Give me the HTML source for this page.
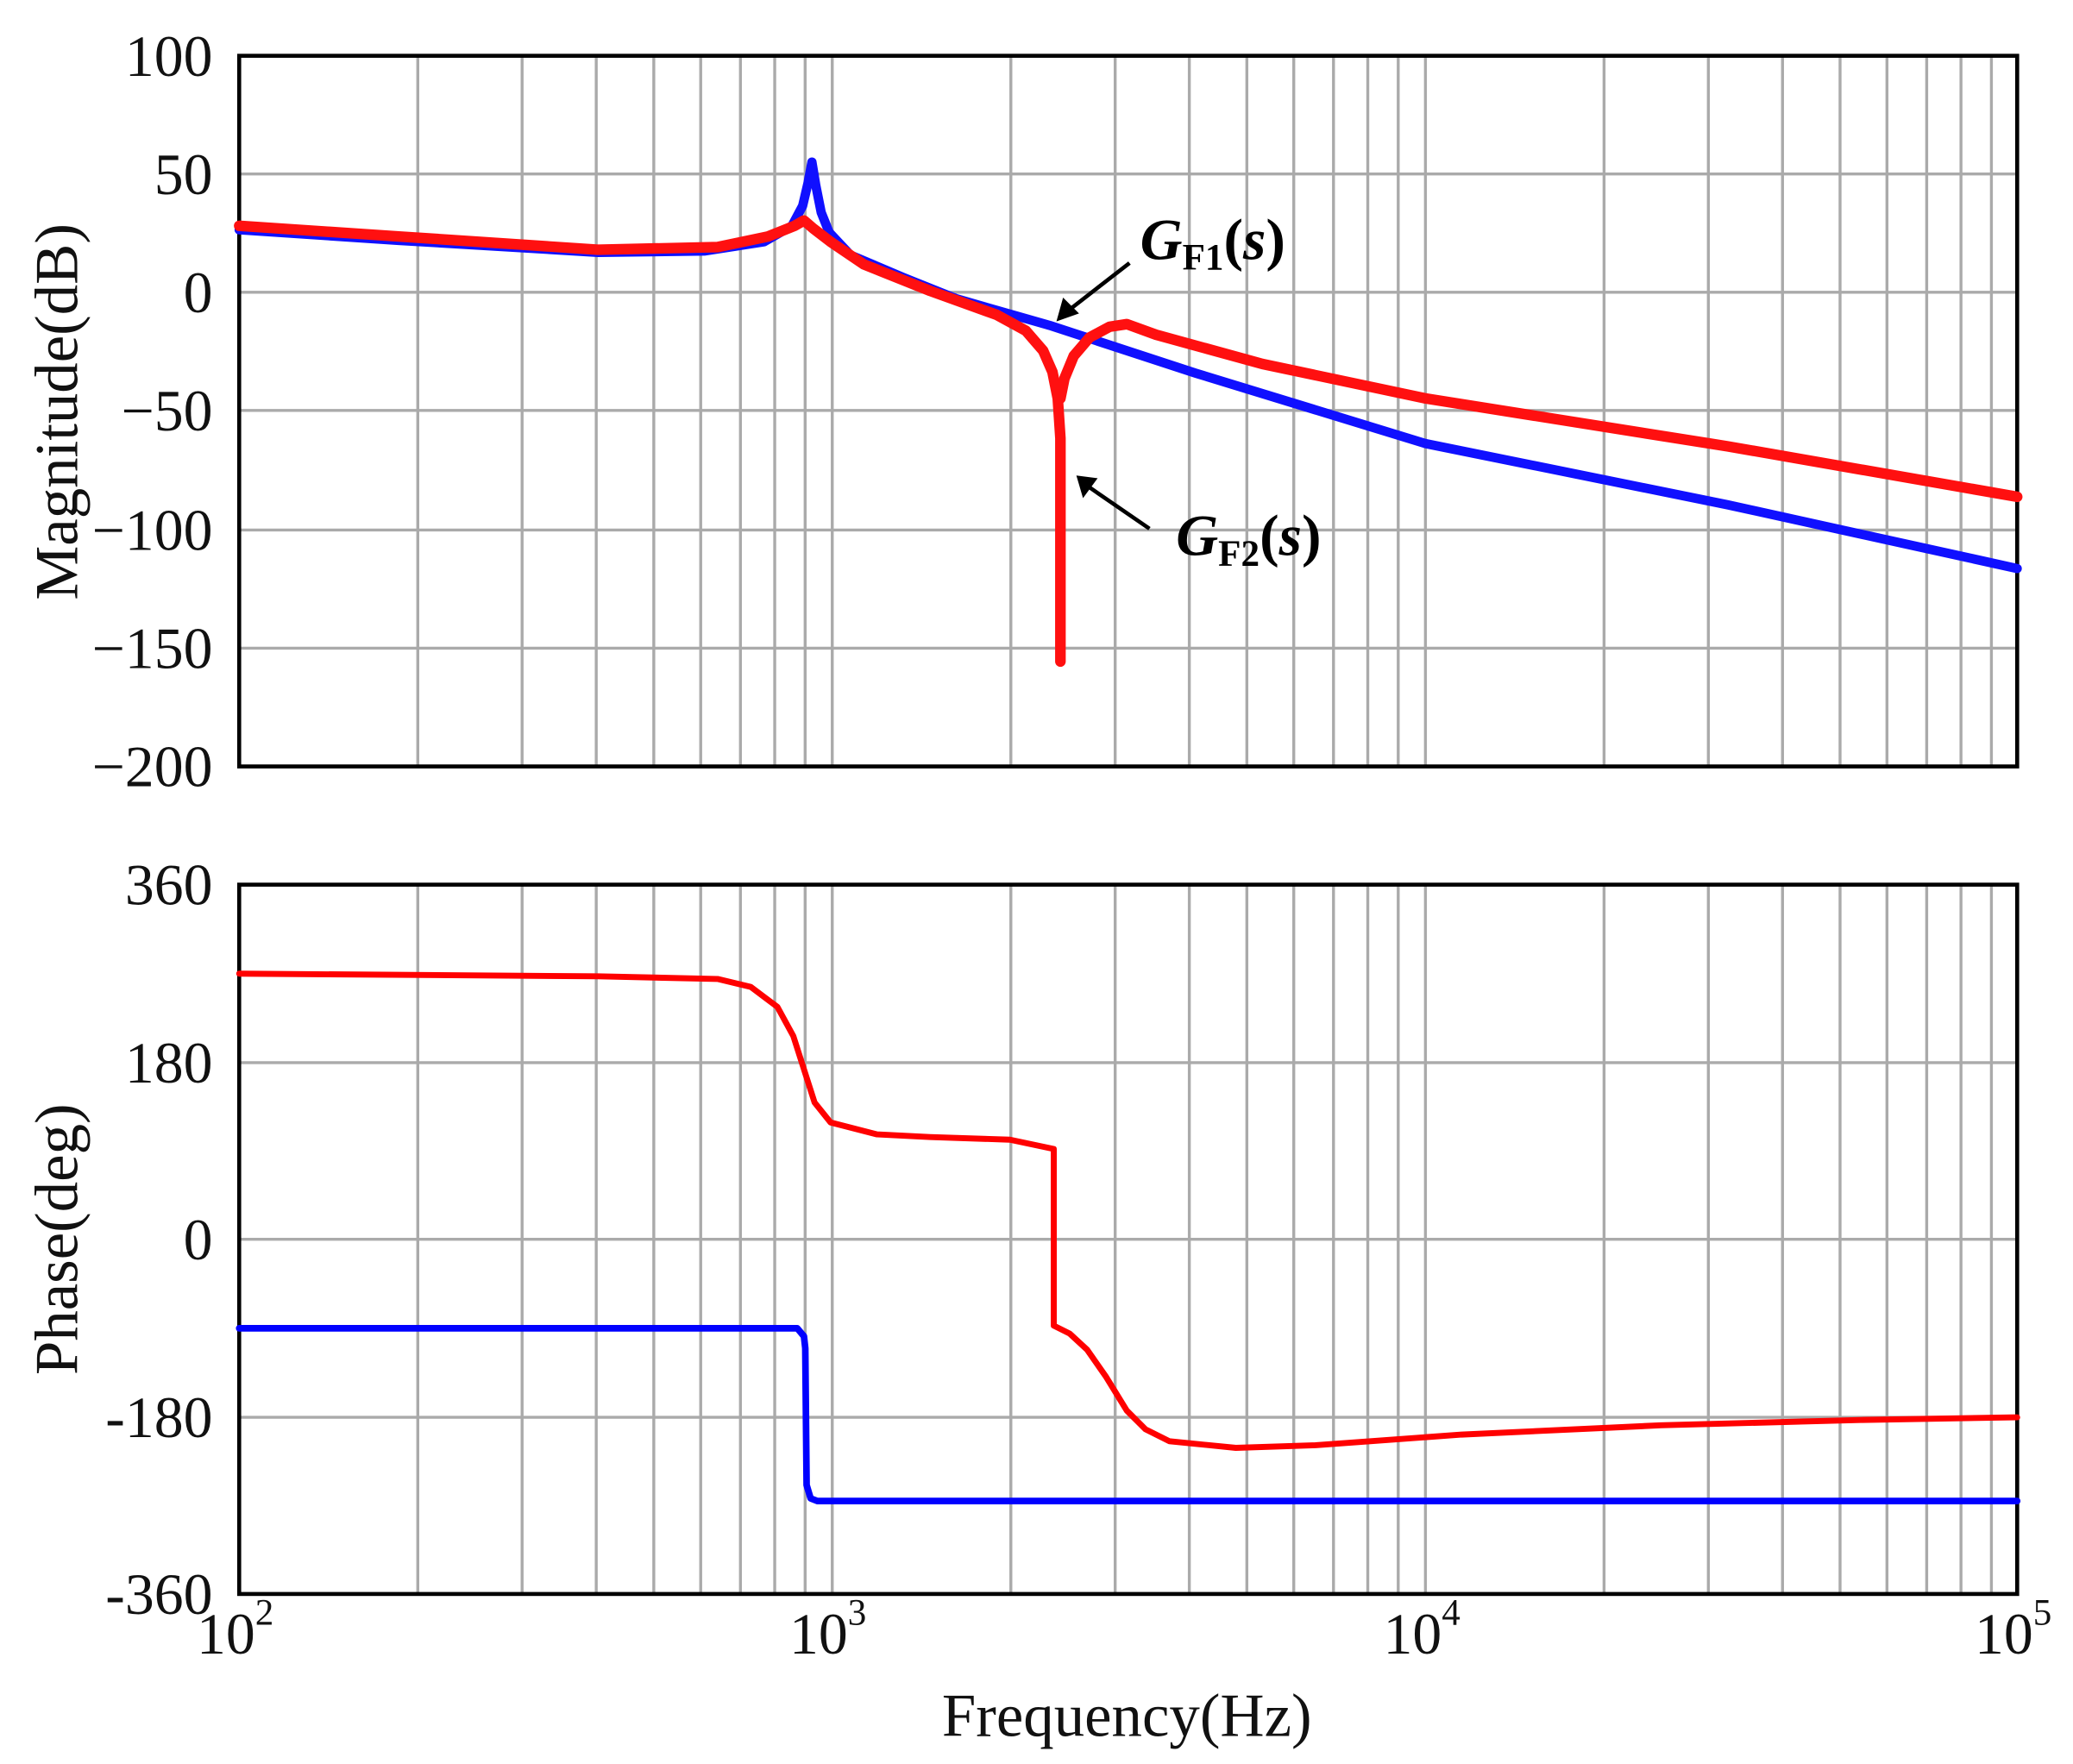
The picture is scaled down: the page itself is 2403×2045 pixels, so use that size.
<!DOCTYPE html>
<html><head><meta charset="utf-8"><style>html,body{margin:0;padding:0;background:#fff}svg{display:block}</style></head>
<body>
<svg xmlns="http://www.w3.org/2000/svg" width="2403" height="2045" viewBox="0 0 1560 1328" preserveAspectRatio="none" font-family="Liberation Serif, serif">
<g stroke="#aaa" stroke-width="2.2" fill="none">
<path d="M314.4 42V577M392.9 42V577M448.7 42V577M492 42V577M527.3 42V577M557.2 42V577M583 42V577M605.9 42V577M626.3 42V577M760.7 42V577M839.2 42V577M895 42V577M938.3 42V577M973.6 42V577M1003.5 42V577M1029.3 42V577M1052.2 42V577M1072.7 42V577M1207.1 42V577M1285.6 42V577M1341.4 42V577M1384.7 42V577M1420 42V577M1449.9 42V577M1475.7 42V577M1498.6 42V577"/>
<path d="M180 131H1518M180 220H1518M180 309H1518M180 399H1518M180 488H1518"/>
<path d="M314.4 666V1200M392.9 666V1200M448.7 666V1200M492 666V1200M527.3 666V1200M557.2 666V1200M583 666V1200M605.9 666V1200M626.3 666V1200M760.7 666V1200M839.2 666V1200M895 666V1200M938.3 666V1200M973.6 666V1200M1003.5 666V1200M1029.3 666V1200M1052.2 666V1200M1072.7 666V1200M1207.1 666V1200M1285.6 666V1200M1341.4 666V1200M1384.7 666V1200M1420 666V1200M1449.9 666V1200M1475.7 666V1200M1498.6 666V1200"/>
<path d="M180 800H1518M180 933H1518M180 1067H1518"/>
</g>
<rect x="180" y="42" width="1338" height="535" fill="none" stroke="#000" stroke-width="3"/>
<rect x="180" y="666" width="1338" height="534" fill="none" stroke="#000" stroke-width="3"/>
<g fill="none" stroke-linejoin="round" stroke-linecap="round">
<polyline stroke="#1010ff" stroke-width="7" points="180,173 300,181 450,190 530,189 575,182 596,170 604,155 608,138 611,122 614,140 618,160 624,175 640,192 680,209 720,225 790,245 900,281 1073,334 1300,380 1518,428"/>
<polyline stroke="#ff1010" stroke-width="8" points="180,170 300,178 450,188 540,186 578,178 598,170 605,166 612,172 625,182 650,199 700,219 750,237 772,249 785,264 792,280 796,300 798,330 798,498"/>
<polyline stroke="#ff1010" stroke-width="8" points="798,300 801,285 808,268 820,254 835,246 848,244 870,252 950,274 1073,300 1300,336 1518,374"/>
<polyline stroke="#ff0000" stroke-width="4.5" points="180,733 450,735 540,737 565,743 585,758 597,780 605,805 613,830 625,845 660,854 700,856 760,858 793,865 793,998 805,1004 818,1016 832,1036 848,1062 862,1076 880,1085 930,1090 990,1088 1100,1080 1250,1073 1400,1069 1518,1067"/>
<polyline stroke="#0000ff" stroke-width="5" points="180,1000 600,1000 605,1006 606,1015 607,1118 610,1128 615,1130 1518,1130"/>
</g>
<g stroke="#000" stroke-width="3">
<line x1="850" y1="198" x2="805" y2="233"/>
<line x1="865" y1="398" x2="820" y2="367"/>
</g>
<polygon points="795,242 800,224 812,236" fill="#000"/>
<polygon points="810,358 826,360 815,375" fill="#000"/>
<g font-weight="bold" font-size="44" fill="#000">
<text x="858" y="195"><tspan font-style="italic">G</tspan><tspan font-size="28" dy="8">F1</tspan><tspan dy="-8">(</tspan><tspan font-style="italic">s</tspan>)</text>
<text x="885" y="418"><tspan font-style="italic">G</tspan><tspan font-size="28" dy="8">F2</tspan><tspan dy="-8">(</tspan><tspan font-style="italic">s</tspan>)</text>
</g>
<g font-size="44" fill="#111" text-anchor="end">
<text x="160" y="57">100</text>
<text x="160" y="146">50</text>
<text x="160" y="235">0</text>
<text x="160" y="324">−50</text>
<text x="160" y="414">−100</text>
<text x="160" y="503">−150</text>
<text x="160" y="592">−200</text>
<text x="160" y="681">360</text>
<text x="160" y="815">180</text>
<text x="160" y="948">0</text>
<text x="160" y="1082">-180</text>
<text x="160" y="1215">-360</text>
</g>
<g font-size="44" fill="#111">
<text x="148" y="1245">10<tspan font-size="28" dy="-22">2</tspan></text>
<text x="594" y="1245">10<tspan font-size="28" dy="-22">3</tspan></text>
<text x="1041" y="1245">10<tspan font-size="28" dy="-22">4</tspan></text>
<text x="1486" y="1245">10<tspan font-size="28" dy="-22">5</tspan></text>
</g>
<text x="848" y="1307" font-size="46" text-anchor="middle" fill="#111">Frequency(Hz)</text>
<text transform="translate(58,310) rotate(-90)" font-size="46" text-anchor="middle" fill="#111">Magnitude(dB)</text>
<text transform="translate(58,933) rotate(-90)" font-size="46" text-anchor="middle" fill="#111">Phase(deg)</text>
</svg>
</body></html>
